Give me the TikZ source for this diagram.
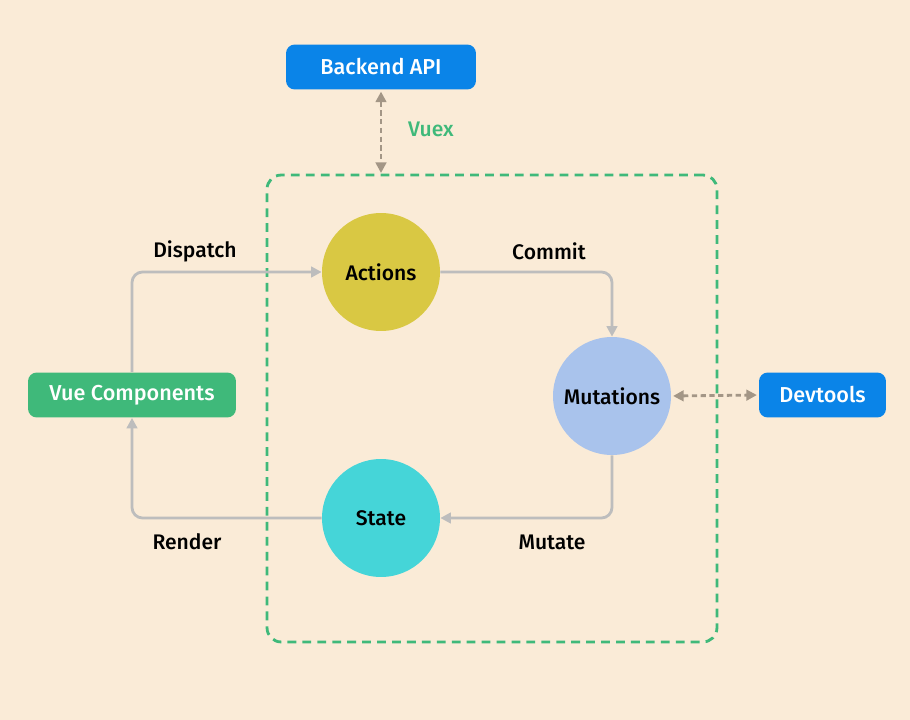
\documentclass[tikz,border=0pt]{standalone}
\usepackage{fontspec}
\setmainfont{Fira Sans}[BoldFont={Fira Sans Medium}]
\usetikzlibrary{arrows.meta,positioning}
\definecolor{bgcolor}{HTML}{FAEBD7}
\definecolor{vuegreen}{HTML}{3FB97A}
\definecolor{apiblue}{HTML}{0A84E8}
\definecolor{actioncolor}{HTML}{D9C843}
\definecolor{mutationcolor}{HTML}{A9C3EC}
\definecolor{statecolor}{HTML}{45D5D8}
\definecolor{flowcolor}{HTML}{BDBDBD}
\definecolor{linkcolor}{HTML}{A39686}

\begin{document}
\begin{tikzpicture}[
    x=0.02cm, y=-0.02cm,
    extbox/.style={
        rectangle, rounded corners=5pt, minimum height=0.9cm,
        fill=#1, text=white, font=\bfseries\fontsize{12.3}{14}\selectfont
    },
    part/.style={
        circle, minimum size=2.36cm, inner sep=0pt, fill=#1,
        font=\bfseries\fontsize{12}{14}\selectfont, text=black
    },
    flow/.style={
        -{Triangle[length=6pt,width=6pt]}, line width=1.6pt, color=flowcolor,
        rounded corners=6pt
    },
    link/.style={
        {Triangle[length=6pt,width=6pt]}-{Triangle[length=6pt,width=6pt]},
        line width=1.6pt, color=linkcolor, dash pattern=on 3pt off 2pt
    },
    flowlabel/.style={
        font=\bfseries\fontsize{12}{14}\selectfont, text=black
    }
]

% Background
\fill[bgcolor] (0,0) rectangle (910,720);
\useasboundingbox (0,0) rectangle (910,720);

% Vuex store (dashed frame)
\node[draw=vuegreen, line width=1.6pt, dash pattern=on 5pt off 3.5pt,
      rounded corners=8pt, minimum width=9cm, minimum height=9.34cm] (store) at (492,408.5) {};
\node[font=\bfseries\fontsize{12}{14}\selectfont, text=vuegreen] (vuex) at (431,129) {Vuex};

% Outside boxes
\node[extbox=apiblue, minimum width=3.8cm] (backend) at (381,67) {Backend API};
\node[extbox=vuegreen, minimum width=4.16cm] (vue) at (132,395) {Vue Components};
\node[extbox=apiblue, minimum width=2.54cm] (devtools) at (822.5,395) {Devtools};

% Store parts
\node[part=actioncolor] (actions) at (381,272) {Actions};
\node[part=mutationcolor] (mutations) at (612,396) {Mutations};
\node[part=statecolor] (state) at (381,518) {State};

% Data flow
\draw[flow] (vue.north) |- (actions.west);
\draw[flow] (actions.east) -| (mutations.north);
\draw[flow] (mutations.south) |- (state.east);
\draw[flow] (state.west) -| (vue.south);

\node[flowlabel] (dispatch) at (195,251) {Dispatch};
\node[flowlabel] (commit) at (549,251) {Commit};
\node[flowlabel] (mutate) at (552,542) {Mutate};
\node[flowlabel] (render) at (187,542) {Render};

% Links to the outside
\coordinate (storetop) at (381,173);
\draw[link, shorten <=1pt] (backend.south) -- (storetop);
\draw[link, shorten <=1pt, shorten >=1pt] (mutations.east) -- (devtools.west);

\end{tikzpicture}
\end{document}
